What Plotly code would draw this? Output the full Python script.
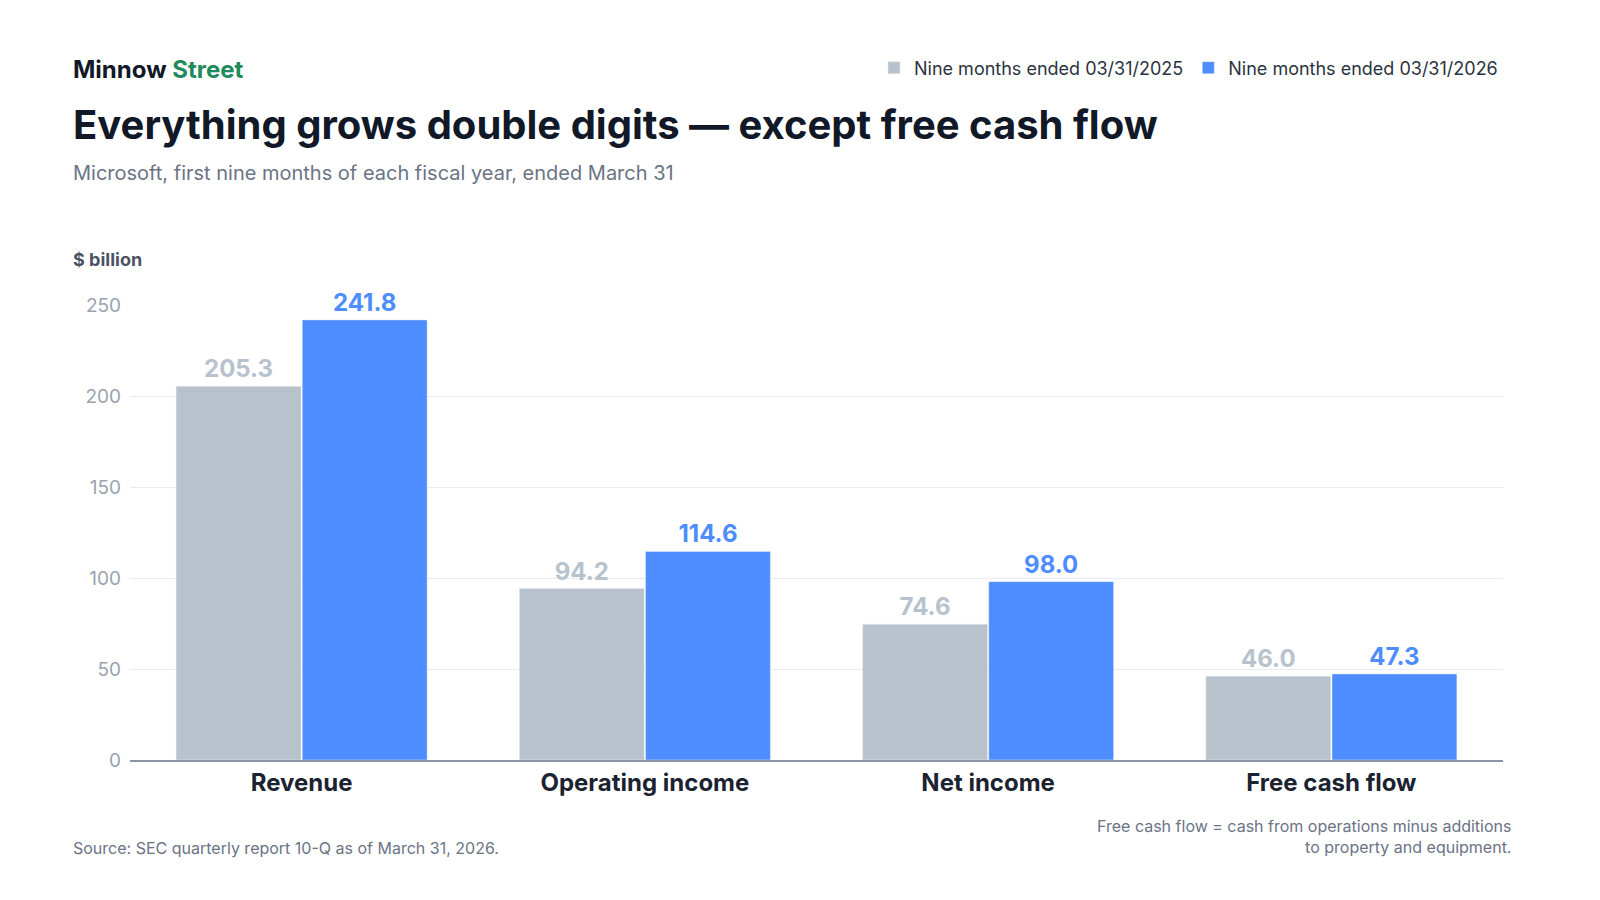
import plotly.graph_objects as go

categories = ["Revenue", "Operating income", "Net income", "Free cash flow"]
fy2025 = [205.3, 94.2, 74.6, 46.0]
fy2026 = [241.8, 114.6, 98.0, 47.3]
series_names = ["Nine months ended 03/31/2025", "Nine months ended 03/31/2026"]

grey = "#b8c2cc"
blue = "#4d8dff"
font = "Inter, Roboto, sans-serif"

fig = go.Figure()
fig.add_trace(go.Bar(x=categories, y=fy2025, name=series_names[0], marker_color=grey,
                     text=[f"{v:.1f}" for v in fy2025], textposition="outside",
                     textfont=dict(color=grey, size=24, family=font, weight="bold"),
                     cliponaxis=False))
fig.add_trace(go.Bar(x=categories, y=fy2026, name=series_names[1], marker_color=blue,
                     text=[f"{v:.1f}" for v in fy2026], textposition="outside",
                     textfont=dict(color=blue, size=24, family=font, weight="bold"),
                     cliponaxis=False))

fig.update_layout(
    width=1600, height=900,
    paper_bgcolor="white", plot_bgcolor="white",
    margin=dict(l=122, r=105, t=297, b=148),
    barmode="group", bargap=0.265, bargroupgap=0.01,
    font=dict(family=font),
    showlegend=True,
    legend=dict(orientation="h", x=1, xanchor="right", y=1.56, yanchor="middle",
                font=dict(size=18, color="#2b3340"), traceorder="normal",
                itemwidth=30),
    yaxis=dict(range=[0, 250], dtick=50, showgrid=True, gridcolor="#e8ebef",
               zeroline=False, tickfont=dict(size=19, color="#9aa3af"),
               ticks="", ticklabelstandoff=8),
    xaxis=dict(showline=True, linecolor="#8a93a3", linewidth=1.5,
               tickfont=dict(size=24, color="#1b2230", weight="bold")),
)

fig.add_annotation(x=63/1600, y=60, xref="paper", yref="paper", text="", showarrow=False)
annos = [
    dict(x=63, y=61, text="<b>Minnow <span style='color:#1f8a5b'>Street</span></b>", size=24, color="#111827", anchor="left"),
    dict(x=63, y=116, text="<b>Everything grows double digits — except free cash flow</b>", size=40, color="#111827", anchor="left"),
    dict(x=63, y=165, text="Microsoft, first nine months of each fiscal year, ended March 31", size=20, color="#6b7385", anchor="left"),
    dict(x=63, y=252, text="<b>$ billion</b>", size=18, color="#4b5363", anchor="left"),
    dict(x=63, y=840, text="Source: SEC quarterly report 10-Q as of March 31, 2026.", size=16, color="#6b7385", anchor="left"),
    dict(x=1505, y=828, text="Free cash flow = cash from operations minus additions<br>to property and equipment.", size=16, color="#6b7385", anchor="right"),
]
for a in annos:
    fig.add_annotation(x=a["x"] / 1600, y=1 - a["y"] / 900, xref="paper", yref="paper",
                       text=a["text"], showarrow=False, xanchor=a["anchor"], yanchor="middle",
                       align=a["anchor"], font=dict(size=a["size"], color=a["color"], family=font))

# paper coords above are relative to the whole page; convert to plot-area paper coords
w_plot = 1600 - 122 - 105
h_plot = 900 - 297 - 148
for ann in fig.layout.annotations:
    if ann.text:
        px_x = ann.x * 1600
        px_y = (1 - ann.y) * 900
        ann.x = (px_x - 122) / w_plot
        ann.y = (900 - 148 - px_y) / h_plot
fig.layout.legend.y = (900 - 148 - 60) / h_plot

fig.write_html("out.html")
